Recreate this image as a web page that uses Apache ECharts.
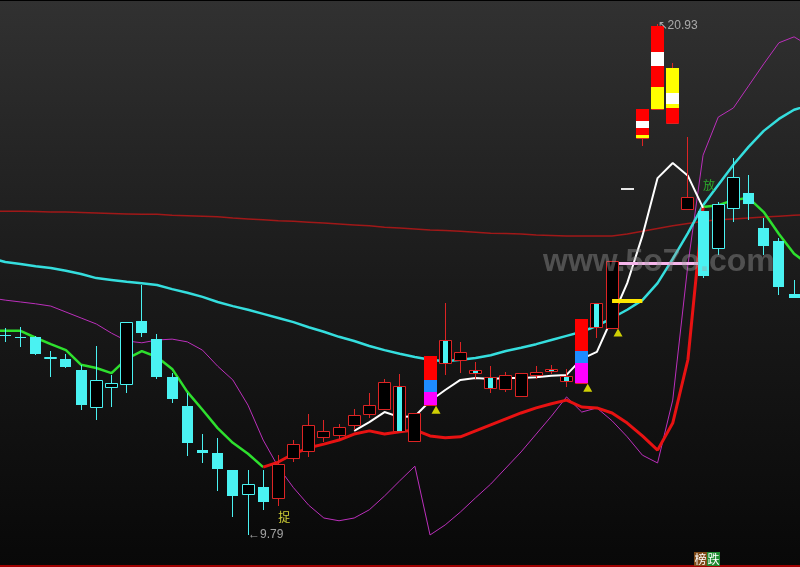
<!DOCTYPE html>
<html><head><meta charset="utf-8">
<script src="https://cdn.jsdelivr.net/npm/echarts/dist/echarts.min.js"></script>
<style>html,body{margin:0;padding:0;background:#000;}#c{width:800px;height:567px;}</style>
</head><body><div id="c"></div>
<script>
// 55 day slots: slot 0 and slot 54 are off-screen days that only carry indicator lines
const slots = Array.from({length: 55}, (_, k) => k);

// candles i0..i52 (slot = i+1): [open, close, low, high]
const candles = [
  [14.15,14.13,14.00,14.30],[14.11,14.09,13.89,14.32],[14.11,13.74,13.71,14.13],[13.65,13.67,13.23,13.80],
  [13.63,13.45,13.44,13.74],[13.39,12.62,12.52,13.50],[12.58,13.17,12.30,13.91],[13.02,13.10,12.58,13.28],
  [13.08,14.43,12.89,14.43],[14.46,14.19,14.11,15.24],[14.06,13.23,13.19,14.17],[13.23,12.76,12.67,13.32],
  [12.60,11.80,11.51,12.89],[11.64,11.58,11.36,11.99],[11.58,11.23,10.75,11.90],[11.21,10.64,10.18,11.21],
  [10.68,10.90,9.79,11.21],[10.84,10.51,10.34,11.21],[10.60,11.34,10.42,11.53],[11.47,11.77,11.38,11.86],
  [11.62,12.19,11.49,12.43],[11.93,12.06,11.82,12.30],[11.97,12.14,11.88,12.21],[12.19,12.41,12.08,12.54],
  [12.43,12.62,12.34,12.89],[12.54,13.13,12.54,13.19],[13.04,12.06,12.06,13.30],[11.84,12.45,11.84,12.45],
  [12.62,13.69,12.62,13.69],[14.04,13.54,13.28,14.85],[13.61,13.78,13.32,14.00],[13.39,13.32,13.19,13.56],
  [13.23,13.00,12.89,13.47],[12.97,13.28,12.91,13.34],[12.82,13.32,12.82,13.32],[13.28,13.34,13.19,13.47],
  [13.41,13.37,13.30,13.50],[13.26,13.15,13.02,13.41],[13.10,14.50,13.10,14.50],[14.85,14.32,14.09,14.85],
  [14.30,15.76,14.30,15.76],[17.34,17.34,17.34,17.34],[18.45,19.07,18.27,19.07],[19.08,20.89,19.08,20.93],
  [18.77,19.97,18.77,20.08],[16.90,17.16,16.90,18.47],[16.85,15.44,15.40,16.85],[16.05,17.01,15.89,17.05],
  [16.92,17.59,16.61,18.01],[17.25,17.01,16.66,17.64],[16.48,16.09,15.89,16.70],[16.20,15.20,15.02,16.27],
  [15.04,14.96,14.96,15.35]
];
// trend state per candle: C = weak (cyan), R = strong (red)
const candleState = 'CCCCCCCCCCCCCCCCCC' + 'RRRRRRRRRRRRRRRRRRRRRRRRRRRR' + 'CCCCCCC';

// indicator lines, per slot (0..54)
const maLong = [16.85,16.85,16.85,16.84,16.83,16.83,16.82,16.81,16.80,16.79,16.78,16.78,16.76,16.75,16.74,16.73,16.70,16.68,16.66,16.64,16.63,16.61,16.59,16.57,16.55,16.53,16.50,16.48,16.46,16.44,16.43,16.41,16.39,16.37,16.36,16.35,16.33,16.32,16.31,16.31,16.31,16.31,16.35,16.41,16.47,16.53,16.58,16.63,16.66,16.68,16.70,16.72,16.74,16.76,16.77];
const cyanLine = [15.83,15.74,15.70,15.65,15.61,15.55,15.48,15.39,15.35,15.31,15.28,15.24,15.15,15.07,14.98,14.87,14.78,14.70,14.61,14.52,14.43,14.32,14.22,14.11,14.02,13.91,13.82,13.74,13.67,13.61,13.58,13.61,13.65,13.71,13.80,13.87,13.95,14.04,14.13,14.22,14.35,14.52,14.70,14.91,15.28,15.81,16.37,16.98,17.42,17.86,18.25,18.60,18.86,19.06,19.16];
const magentaLine = [14.96,14.91,14.87,14.83,14.78,14.65,14.52,14.39,14.19,14.02,13.98,14.04,14.06,14.00,13.82,13.47,13.17,12.62,11.86,11.27,10.82,10.44,10.16,10.10,10.16,10.34,10.64,10.97,11.29,9.79,10.01,10.29,10.60,10.90,11.25,11.60,11.99,12.38,12.80,12.47,12.56,12.28,11.93,11.53,11.36,12.73,15.68,18.07,18.90,19.10,19.58,20.06,20.52,20.65,20.45];
const trendLine = [14.24,14.24,14.24,14.09,13.95,13.82,13.50,13.43,13.32,13.63,13.80,13.67,13.41,12.91,12.52,12.12,11.80,11.56,11.27,11.38,11.56,11.69,11.77,11.86,11.99,12.06,11.99,12.04,12.08,11.95,11.91,11.93,12.06,12.19,12.32,12.45,12.56,12.65,12.73,12.58,12.56,12.45,12.23,11.95,11.64,12.23,13.61,16.94,16.98,17.09,17.14,16.83,16.35,15.92,15.68];
const trendRedSpan = [18, 47]; // slots where the trend line is in the strong (red) state
const whiteLine = [null,null,null,null,null,null,null,null,null,null,null,null,null,null,null,null,null,null,null,null,null,null,null,null,
  12.06,12.25,12.47,12.36,12.38,12.71,12.95,13.17,13.21,13.19,13.21,13.21,13.23,13.26,13.28,13.63,13.78,14.52,15.28,16.31,17.57,17.90,17.62,16.92,
  null,null,null,null,null,null,null];

// limit-up stick bands: [slot, low, high]
const bandRed = [[29,13.17,13.69],[39,13.80,14.50],[43,18.81,19.07],[43,18.51,18.66],[44,20.32,20.89],[44,19.56,20.01],[45,18.77,19.10]];
const bandWhite = [[43,18.66,18.81],[44,20.01,20.32],[45,19.19,19.43]];
const bandYellow = [[43,18.45,18.51],[44,19.08,19.56],[45,19.43,19.97],[45,19.10,19.19]];
const bandBlue = [[29,12.91,13.17],[39,13.54,13.80]];
const bandMagenta = [[29,12.62,12.91],[39,13.10,13.54]];

// horizontal levels [fromSlot, toSlot, price]
const pinkLevel = [41, 47, 15.71];
const yellowLevel = [41, 43, 14.89];
// buy signals (triangles) at open price
const signals = [[29, 12.62], [39, 13.10], [41, 14.30]];
const lowMark = [17, 9.79];
const highMark = [44, 20.93];
const tagCatch = [19, 10.18];
const tagRelease = [47, 17.40];

function pairs(arr) { return arr.map((v, k) => [slots[k], v == null ? '-' : v]); }
function levelData(lv) { return slots.filter(k => k >= lv[0] && k <= lv[1]).map(k => [k, lv[2]]); }
function spanData(arr, a, b, inside) { return arr.map((v, k) => [k, (((k >= a && k <= b) === inside) || k === a || k === b) ? v : '-']); }

const CYAN = '#4af2f2', RED = '#dc2424';

function renderCandle(params, api) {
  const k = api.value(0), o = api.value(1), c = api.value(2), l = api.value(3), h = api.value(4);
  const st = candleState[params.dataIndex];
  const pO = api.coord([k, o]), pC = api.coord([k, c]), pL = api.coord([k, l]), pH = api.coord([k, h]);
  const xc = Math.floor(pO[0]);
  const yTop = Math.round(Math.min(pO[1], pC[1])), yBot = Math.round(Math.max(pO[1], pC[1]));
  const yH = Math.round(pH[1]), yL = Math.round(pL[1]);
  const ch = [];
  if (h === l) {
    ch.push({type: 'rect', shape: {x: xc - 6, y: yTop - 1, width: 13, height: 2}, style: {fill: '#e6e6e6'}});
    return {type: 'group', children: ch};
  }
  const up = c > o;
  const col = st === 'R' ? RED : CYAN;
  const hollow = st === 'R' || up;
  if (yL > yH) ch.push({type: 'line', shape: {x1: xc + 0.5, y1: yH, x2: xc + 0.5, y2: yL}, style: {stroke: col, lineWidth: 1}});
  const hgt = Math.max(yBot - yTop, 1);
  if (hollow) {
    ch.push({type: 'rect', shape: {x: xc - 5.5, y: yTop + 0.5, width: 12, height: hgt}, style: {fill: '#000', stroke: col, lineWidth: 1}});
    if (st === 'R' && !up) ch.push({type: 'rect', shape: {x: xc - 2, y: yTop + 1, width: 5, height: Math.max(hgt - 1, 1)}, style: {fill: CYAN}});
  } else {
    ch.push({type: 'rect', shape: {x: xc - 5, y: yTop, width: 11, height: hgt}, style: {fill: CYAN}});
  }
  return {type: 'group', children: ch};
}
function bandSeries(data, color) {
  return {
    type: 'custom', z: 4, data: data, encode: {x: 0, y: [1, 2]},
    renderItem: function (params, api) {
      const k = api.value(0);
      const a = api.coord([k, api.value(1)]), b = api.coord([k, api.value(2)]);
      const xc = Math.floor(a[0]);
      const y1 = Math.round(Math.min(a[1], b[1])), y2 = Math.round(Math.max(a[1], b[1]));
      return {type: 'rect', shape: {x: xc - 6, y: y1, width: 13, height: Math.max(y2 - y1, 1)}, style: {fill: color}};
    }
  };
}
function lineSeries(data, color, width, z) {
  return {type: 'line', data: data, symbol: 'none', z: z || 1, connectNulls: false,
    lineStyle: {color: color, width: width}, itemStyle: {color: color}, emphasis: {disabled: true}};
}

const chart = echarts.init(document.getElementById('c'), null, {renderer: 'canvas'});
const bg = new echarts.graphic.LinearGradient(0, 0, 0, 1, [
  {offset: 0, color: '#313131'}, {offset: 0.5, color: '#1a1a1a'}, {offset: 1, color: '#080808'}]);

chart.setOption({
  animation: false,
  backgroundColor: '#000',
  grid: {left: 0, top: 0, right: 0, bottom: 0},
  xAxis: {type: 'value', min: 0.6506, max: 53.39, show: false, splitLine: {show: false}},
  yAxis: {type: 'value', min: 9.092, max: 21.453, show: false, splitLine: {show: false}},
  graphic: [
    {type: 'rect', z: -10, silent: true, shape: {x: 0, y: 0, width: 800, height: 567}, style: {fill: bg}},
    {type: 'rect', z: 50, silent: true, shape: {x: 0, y: 0, width: 800, height: 1}, style: {fill: '#000'}},
    {type: 'rect', z: 50, silent: true, shape: {x: 0, y: 565, width: 800, height: 2}, style: {fill: '#a00000'}},
    {type: 'rect', z: 50, silent: true, shape: {x: 694, y: 552, width: 13, height: 14}, style: {fill: '#7e4a18'}},
    {type: 'rect', z: 50, silent: true, shape: {x: 707, y: 552, width: 13, height: 14}, style: {fill: '#1f8a30'}},
    {type: 'text', z: 51, silent: true, x: 700.5, y: 559, style: {text: '榜', fill: '#fff', font: '12px "Noto Sans CJK SC"', align: 'center', verticalAlign: 'middle'}},
    {type: 'text', z: 51, silent: true, x: 713.5, y: 559, style: {text: '跌', fill: '#fff', font: '12px "Noto Sans CJK SC"', align: 'center', verticalAlign: 'middle'}},
    {type: 'text', z: 100, silent: true, x: 543, y: 262, style: {text: 'www.5o7o.com', fill: 'rgba(160,160,160,0.40)', font: 'bold 32px "Liberation Sans"', verticalAlign: 'middle'}}
  ],
  series: [
    lineSeries(pairs(maLong), '#a01818', 1.5),
    lineSeries(pairs(magentaLine), '#bb2fbb', 1),
    lineSeries(pairs(cyanLine), '#35dede', 2.5),
    lineSeries(spanData(trendLine, trendRedSpan[0], trendRedSpan[1], false), '#2ee02e', 2.5),
    lineSeries(spanData(trendLine, trendRedSpan[0], trendRedSpan[1], true), '#e81212', 3),
    lineSeries(pairs(whiteLine), '#ffffff', 2),
    lineSeries(levelData(pinkLevel), '#f6b6ec', 3),
    {type: 'custom', z: 3, data: candles.map((d, i) => [slots[i + 1]].concat(d)), encode: {x: 0, y: [1, 2, 3, 4]}, renderItem: renderCandle},
    bandSeries(bandRed, '#ff0000'),
    bandSeries(bandWhite, '#ffffff'),
    bandSeries(bandYellow, '#ffff00'),
    bandSeries(bandBlue, '#1e8cff'),
    bandSeries(bandMagenta, '#ff00ff'),
    lineSeries(levelData(yellowLevel), '#ffe800', 4, 5),
    {type: 'scatter', z: 6, data: signals, symbol: 'triangle', symbolSize: [9, 8], symbolOffset: [6, 4.5], itemStyle: {color: '#ffff00'}},
    {type: 'scatter', z: 7, symbolSize: 0, data: [
      {value: lowMark, label: {formatter: '←' + lowMark[1].toFixed(2), position: 'right', distance: 0}},
      {value: highMark, label: {formatter: '↖' + highMark[1].toFixed(2), position: 'right', distance: 0, offset: [0, 2]}}
    ], label: {show: true, color: '#c8c8c8', fontSize: 12, fontFamily: 'Liberation Sans'}},
    {type: 'scatter', z: 7, symbolSize: 0, data: [
      {value: tagCatch, label: {formatter: '捉', color: '#ffff40'}},
      {value: tagRelease, label: {formatter: '放', color: '#2ecc2e'}}
    ], label: {show: true, position: 'inside', offset: [6, 0], fontSize: 12, fontFamily: 'Noto Sans CJK SC'}}
  ]
});
</script></body></html>
